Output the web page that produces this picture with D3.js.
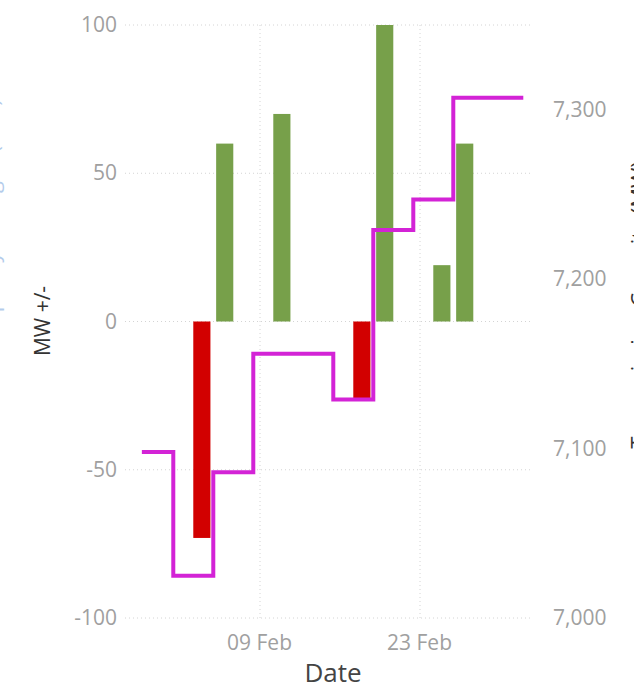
<!DOCTYPE html>
<html><head><meta charset="utf-8">
<script src="https://cdn.jsdelivr.net/npm/d3@7"></script>
<style>
html,body{margin:0;padding:0;background:#fff;overflow:hidden}
svg{display:block}
text{font-family:"Segoe UI","Open Sans","Noto Sans",sans-serif}
</style></head>
<body>
<script>
// ---- data ----
const barDates = ["2025-02-04","2025-02-06","2025-02-11","2025-02-18","2025-02-20","2025-02-25","2025-02-27"];
const barValues = [-73, 60, 70, -26, 100, 19, 60];
const lineDates = ["2025-01-29T18:00","2025-02-01T12:00","2025-02-05T00:00","2025-02-08T12:00","2025-02-15T12:00","2025-02-19T00:00","2025-02-22T12:00","2025-02-26T00:00","2025-03-04T03:00"];
const lineValues = [7098, 7025, 7086, 7156, 7129, 7229, 7247, 7307, 7307];
const xTickDates = ["2025-02-09","2025-02-23"];
const xTickLabels = ["09 Feb","23 Feb"];
const leftTicks = [-100,-50,0,50,100];
const rightTicks = [7000,7100,7200,7300];
const xDomain = ["2025-01-28T06:36","2025-03-04T21:17"];
const leftDomain = [-100,100];
const rightDomain = [7000,7350];

const W=634,H=689;
const plot={left:125,right:532,top:25,bottom:618};
const parse = s => new Date(s);

const svg=d3.select("body").append("svg").attr("width",W).attr("height",H);

const x=d3.scaleTime().domain(xDomain.map(parse)).range([plot.left,plot.right]);
const yL=d3.scaleLinear().domain(leftDomain).range([plot.bottom,plot.top]);
const yR=d3.scaleLinear().domain(rightDomain).range([plot.bottom,plot.top]);

// gridlines
const grid=svg.append("g");
grid.selectAll("line.h").data(leftTicks).join("line")
  .attr("x1",plot.left).attr("x2",plot.right)
  .attr("y1",d=>yL(d)).attr("y2",d=>yL(d))
  .attr("stroke","#d4d4d4").attr("stroke-width",1).attr("stroke-dasharray","1,3");
grid.selectAll("line.v").data(xTickDates).join("line")
  .attr("x1",d=>x(parse(d))+1).attr("x2",d=>x(parse(d))+1)
  .attr("y1",plot.top).attr("y2",plot.bottom)
  .attr("stroke","#d4d4d4").attr("stroke-width",1).attr("stroke-dasharray","1,3");

// bars
const bars=barDates.map((d,i)=>({date:parse(d),value:barValues[i]}));
const half = d => (x(d3.timeHour.offset(d,18))-x(d3.timeHour.offset(d,-18)))/2;
svg.append("g").selectAll("rect").data(bars).join("rect")
  .attr("x",d=>x(d.date)-half(d.date))
  .attr("width",d=>2*half(d.date))
  .attr("y",d=>yL(Math.max(0,d.value)))
  .attr("height",d=>Math.abs(yL(d.value)-yL(0)))
  .attr("fill",d=>d.value>=0?"#77A04A":"#D20000");

// step line
const lineData=lineDates.map((d,i)=>({date:parse(d),value:lineValues[i]}));
svg.append("path").datum(lineData)
  .attr("d",d3.line().x(d=>x(d.date)).y(d=>yR(d.value)).curve(d3.curveStepAfter))
  .attr("fill","none").attr("stroke","#D323D6").attr("stroke-width",4).attr("stroke-linejoin","miter");

// axes
const axL=d3.axisLeft(yL).tickValues(leftTicks).tickSize(0).tickPadding(0).tickFormat(d=>String(d));
const gL=svg.append("g").attr("transform",`translate(117,0)`).call(axL);
const axR=d3.axisRight(yR).tickValues(rightTicks).tickSize(0).tickPadding(0).tickFormat(d3.format(","));
const gR=svg.append("g").attr("transform",`translate(553,0)`).call(axR);
const axB=d3.axisBottom(x).tickValues(xTickDates.map(parse)).tickSize(0).tickPadding(0)
  .tickFormat((d,i)=>xTickLabels[i]);
const gB=svg.append("g").attr("transform",`translate(0,631)`).call(axB);
[gL,gR,gB].forEach(g=>{
  g.select(".domain").remove();
  g.selectAll("text").attr("fill","#a0a0a0").style("font-size","21px")
   .style("font-family",'"Segoe UI","Open Sans","Noto Sans",sans-serif');
});
gB.selectAll("text").attr("dy","0.9em");

// titles
svg.append("text").attr("x",333).attr("y",682).attr("text-anchor","middle")
  .attr("fill","#444").style("font-size","26px").text("Date");
svg.append("text").attr("transform","translate(50,321) rotate(-90)").attr("text-anchor","middle")
  .attr("fill","#333").style("font-size","21px").text("MW +/-");
svg.append("text").attr("transform","translate(-1,290) rotate(-90)").attr("text-anchor","middle")
  .attr("fill","#2b6fc7").attr("opacity",0.35).style("font-size","22px").text("Transmission Capacity Changes (MW)");
svg.append("text").attr("transform","translate(647,305) rotate(-90)").attr("text-anchor","middle")
  .attr("fill","#333").style("font-size","22px").text("Transmission Capacity (MW)");
</script>
</body></html>
